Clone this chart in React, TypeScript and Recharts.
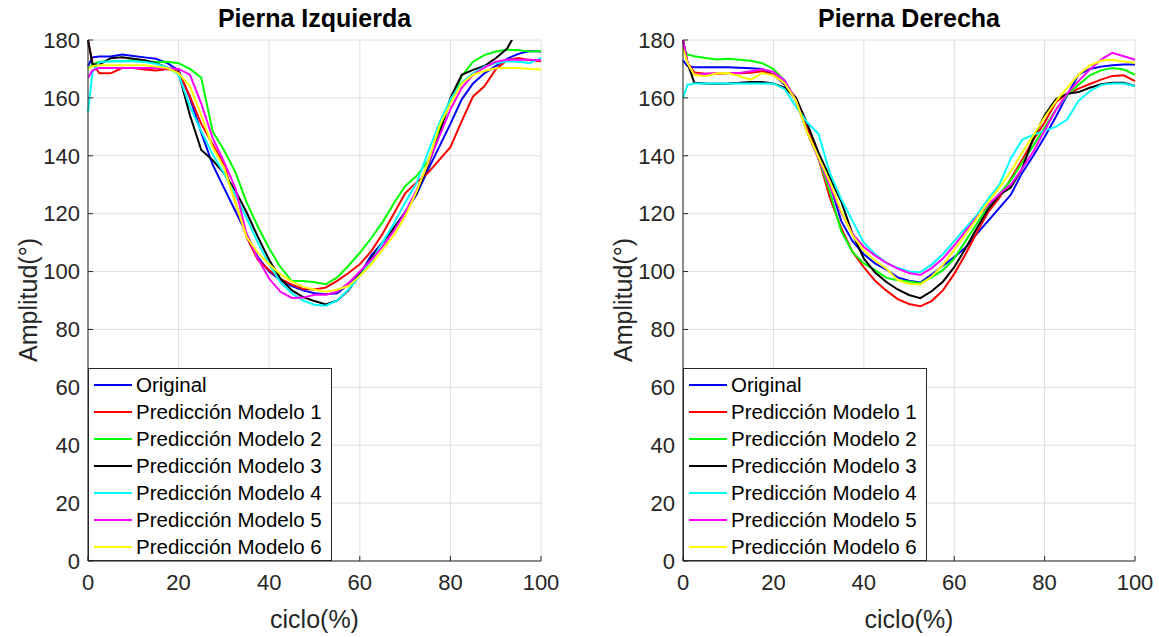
import { LineChart, Line, XAxis, YAxis, CartesianGrid, Legend } from 'recharts'

// ciclo de marcha (%)
const ciclo = [0, 1, 2.5, 5, 7.5, 10, 12.5, 15, 17.5, 20, 22.5, 25, 27.5, 30, 32.5, 35, 37.5, 40, 42.5, 45, 47.5, 50, 52.5, 55, 57.5, 60, 62.5, 65, 67.5, 70, 72.5, 75, 77.5, 80, 82.5, 85, 87.5, 90, 92.5, 95, 97.5, 100]

const seriesNames = ['Original', 'Predicción Modelo 1', 'Predicción Modelo 2', 'Predicción Modelo 3', 'Predicción Modelo 4', 'Predicción Modelo 5', 'Predicción Modelo 6']
const seriesColors = ['#0000ff', '#ff0000', '#00ff00', '#000000', '#00ffff', '#ff00ff', '#ffff00']

const xTicks = [0, 20, 40, 60, 80, 100]
const yTicks = [0, 20, 40, 60, 80, 100, 120, 140, 160, 180]

// Pierna Izquierda
const izqOriginal = [171, 174, 174.3, 174.3, 175, 174.5, 174, 173.5, 172, 169.5, 160, 148, 137, 129, 121, 113, 105, 100, 97, 95, 93.5, 92.5, 92.2, 92.5, 95.5, 99, 105.5, 110, 115, 120.5, 126.5, 135, 143, 151, 159.5, 165, 168.5, 171, 173.5, 175.2, 176.2, 176]
const izqModelo1 = [180, 172, 168.5, 168.5, 170.3, 170.3, 169.8, 169.5, 170, 169, 160.5, 151, 144, 137, 124, 112, 104, 100.5, 97.5, 95.5, 94, 93.8, 94.5, 96.8, 99.5, 102.5, 107, 113, 120, 127, 130.8, 134, 138.5, 143, 152, 160.5, 164, 169.8, 173, 173.8, 173, 172.7]
const izqModelo2 = [170, 171.5, 172.5, 172.7, 172.7, 173, 172.7, 172.4, 172.5, 172, 170, 167, 148.5, 142, 134.5, 124, 115.5, 108, 101.5, 96.7, 96.7, 96.3, 95.6, 98, 102, 106.5, 111.5, 117, 123.5, 129.5, 133, 138, 148.5, 158.5, 167.5, 172.5, 174.8, 176, 176.6, 176.5, 176, 176.2]
const izqModelo3 = [180, 171.5, 171.5, 173.7, 174, 173.5, 173, 172, 170.5, 168.5, 154, 142, 138.5, 134, 128, 120.5, 112, 104, 97.5, 93.5, 91.2, 89.8, 88.6, 90, 93.5, 99, 104.5, 110, 115, 120.4, 127, 136.5, 147, 160, 168, 169.7, 171, 173.7, 177, 184, 190, 196]
const izqModelo4 = [155, 169, 172.3, 172.7, 172.7, 172.7, 172.4, 171.8, 170.5, 168, 157, 148.5, 140.5, 134, 126.5, 118.5, 110, 102.5, 96.3, 92.5, 90, 88.5, 88.2, 90, 93.8, 98.5, 103.5, 110, 116.5, 123.8, 130.5, 141, 151, 159.5, 165.3, 168.5, 170.8, 172, 172.6, 172.5, 172, 173.8]
const izqModelo5 = [167, 169.5, 170.3, 170.3, 170.3, 170.3, 170.3, 170.3, 170.2, 170, 168, 158, 146.2, 138, 129, 113, 104.5, 97.5, 93, 90.9, 91, 92, 92, 93, 96, 100, 104, 108.5, 114, 120.4, 128, 137, 146.5, 156, 163.5, 168, 170.5, 172.5, 173.2, 173.2, 173.2, 173]
const izqModelo6 = [170, 171, 171.3, 171.3, 171.3, 171.3, 171.3, 170.8, 170.3, 168.5, 164, 154, 143, 136, 124, 112, 106.5, 102.5, 99, 96.5, 94.8, 93.7, 93, 93.7, 95, 98.5, 102.5, 107.5, 112.5, 119, 127.5, 137.5, 150, 158, 165, 168, 169.3, 170.2, 170.3, 170.3, 170, 169.8]

// Pierna Derecha
const derOriginal = [173, 171, 170.6, 170.6, 170.6, 170.6, 170.4, 170.2, 170, 168, 164.5, 159, 149, 139.5, 130, 117.5, 110.5, 106, 102.8, 100.7, 98, 96.8, 96.2, 99, 102, 105, 108.3, 113, 117.5, 122, 126.5, 134, 140, 146.5, 153.5, 161, 168, 170, 170.8, 171.3, 171.5, 171.5]
const derModelo1 = [180, 172, 168.8, 168.3, 168.3, 168.5, 168.5, 168.7, 169.2, 168, 165, 160, 150, 139, 125.5, 115, 106.8, 101.5, 96.8, 93.4, 90.5, 88.8, 88, 89.8, 93.5, 99.2, 106, 113.5, 120.5, 125.5, 132, 138.5, 145.5, 151.5, 158.5, 161.5, 163.2, 164.8, 166.3, 167.6, 167.8, 165.8]
const derModelo2 = [177, 175, 174.4, 173.8, 173.3, 173.5, 173.2, 172.8, 172, 170, 166, 159, 148, 139, 127.5, 114, 106.8, 102.8, 100.5, 97.8, 97, 96.6, 96, 98, 100.5, 104.5, 110.5, 116.5, 122.5, 126.8, 131.5, 137.5, 143.5, 149.8, 156, 161, 164.5, 167.8, 169.5, 170.3, 169.8, 168]
const derModelo3 = [180, 172, 165.2, 165, 164.9, 165, 165.2, 165.5, 165.5, 165, 163.5, 160, 151, 141, 132.5, 124.2, 113, 104.5, 99.7, 96.4, 93.8, 91.9, 90.8, 93.2, 96.5, 101.5, 108, 115, 121.5, 126.5, 129, 135.5, 146, 154, 159.5, 161.4, 162, 163.5, 164.7, 165.2, 165.2, 164.1]
const derModelo4 = [160, 164.5, 165, 165, 165, 165, 165, 165, 165, 165, 163, 157, 151.5, 147.5, 134, 125, 117.5, 110, 106, 103, 101.3, 100, 99.8, 102.4, 106, 110.5, 115, 119.5, 125, 130, 139, 145.5, 147.2, 148.7, 150, 152.5, 159, 162.3, 164.5, 165, 165, 164.1]
const derModelo5 = [180, 172, 168, 168.3, 168.6, 168.6, 168.6, 169.2, 169.9, 169, 166, 159, 148, 139, 129.5, 120.5, 113, 108.5, 105.5, 103, 101, 99.5, 98.8, 101.2, 104.5, 109, 114, 118.8, 123, 126.8, 130, 135.5, 141.5, 148.7, 155.8, 161.5, 165.8, 169.8, 173.2, 175.6, 174.4, 173.2]
const derModelo6 = [177, 172, 168, 167.5, 168.5, 168.6, 167.5, 166.3, 168.6, 167.8, 165, 159, 148, 139.5, 131, 121, 112.5, 107.3, 103.8, 101, 97, 95.8, 95.5, 98.3, 102.3, 107.5, 112.8, 118.3, 124, 129, 134.5, 141, 147, 153.3, 158.8, 163.5, 168, 171.2, 172.8, 173.2, 172.6, 172.1]

const izquierda = [izqOriginal, izqModelo1, izqModelo2, izqModelo3, izqModelo4, izqModelo5, izqModelo6]
const derecha = [derOriginal, derModelo1, derModelo2, derModelo3, derModelo4, derModelo5, derModelo6]

const AXIS = '#262626'
const H = 637

function buildRows(series: number[][]) {
  return ciclo.map((c, i) => {
    const row: Record<string, number> = { ciclo: c }
    series.forEach((s, k) => {
      row['s' + k] = s[i]
    })
    return row
  })
}

function LegendBox() {
  return (
    <div
      style={{
        width: 244,
        height: 193,
        boxSizing: 'border-box',
        border: `1px solid ${AXIS}`,
        background: '#fff',
        padding: '2px 0 0 5px',
      }}
    >
      {seriesNames.map((name, k) => (
        <div key={name} style={{ display: 'flex', alignItems: 'center', height: 27 }}>
          <span style={{ width: 38, height: 0, borderTop: `2px solid ${seriesColors[k]}`, marginRight: 4 }} />
          <span style={{ fontSize: 20.5, lineHeight: '27px', color: '#000', whiteSpace: 'nowrap' }}>{name}</span>
        </div>
      ))}
    </div>
  )
}

interface PanelProps {
  title: string
  series: number[][]
  x: number
  width: number
  marginLeft: number
  marginRight: number
}

function Panel({ title, series, x, width, marginLeft, marginRight }: PanelProps) {
  const rows = buildRows(series)
  const plotLeft = marginLeft + 60
  const plotRight = width - marginRight
  const cx = (plotLeft + plotRight) / 2
  const tickStyle = { fontSize: 22, fill: AXIS }
  return (
    <div style={{ position: 'absolute', left: x, top: 0, width, height: H }}>
      <div style={{ position: 'absolute', left: cx, top: 18, transform: 'translate(-50%, -50%)', fontSize: 25, fontWeight: 'bold', color: '#000', whiteSpace: 'nowrap' }}>
        {title}
      </div>
      <LineChart width={width} height={H} data={rows} margin={{ top: 40, right: marginRight, bottom: 36, left: marginLeft }}>
        <CartesianGrid stroke="#dedede" strokeWidth={1} />
        <XAxis
          dataKey="ciclo"
          type="number"
          domain={[0, 100]}
          ticks={xTicks}
          height={40}
          tick={tickStyle}
          tickSize={-5}
          tickMargin={18}
          axisLine={{ stroke: AXIS }}
          tickLine={{ stroke: AXIS }}
        />
        <XAxis
          xAxisId="top"
          orientation="top"
          dataKey="ciclo"
          type="number"
          domain={[0, 100]}
          ticks={xTicks}
          height={0}
          tickSize={-5}
          tickFormatter={() => ''}
          axisLine={{ stroke: AXIS }}
          tickLine={{ stroke: AXIS }}
        />
        <YAxis
          type="number"
          domain={[0, 180]}
          ticks={yTicks}
          allowDataOverflow
          width={60}
          tick={tickStyle}
          tickSize={-5}
          tickMargin={13}
          axisLine={{ stroke: AXIS }}
          tickLine={{ stroke: AXIS }}
        />
        <YAxis
          yAxisId="right"
          orientation="right"
          type="number"
          domain={[0, 180]}
          ticks={yTicks}
          width={0}
          tickSize={-5}
          tickFormatter={() => ''}
          axisLine={{ stroke: AXIS }}
          tickLine={{ stroke: AXIS }}
        />
        {seriesNames.map((name, k) => (
          <Line
            key={name}
            type="linear"
            dataKey={'s' + k}
            name={name}
            stroke={seriesColors[k]}
            strokeWidth={2}
            dot={false}
            activeDot={false}
            isAnimationActive={false}
          />
        ))}
        <Legend
          layout="vertical"
          align="center"
          verticalAlign="middle"
          wrapperStyle={{ left: plotLeft, top: 368, width: 244 }}
          content={() => <LegendBox />}
        />
      </LineChart>
      <div style={{ position: 'absolute', left: marginLeft, top: 300, transform: 'translate(-50%, -50%) rotate(-90deg)', fontSize: 25, color: AXIS, whiteSpace: 'nowrap' }}>
        Amplitud(°)
      </div>
      <div style={{ position: 'absolute', left: cx, top: 619, transform: 'translate(-50%, -50%)', fontSize: 25, color: AXIS, whiteSpace: 'nowrap' }}>
        ciclo(%)
      </div>
    </div>
  )
}

export default function App() {
  return (
    <div style={{ position: 'absolute', left: 0, top: 0, width: 1159, height: H, background: '#fff', fontFamily: '"Liberation Sans", Arial, sans-serif' }}>
      <Panel title="Pierna Izquierda" series={izquierda} x={0} width={560} marginLeft={28} marginRight={19} />
      <Panel title="Pierna Derecha" series={derecha} x={580} width={579} marginLeft={43} marginRight={24} />
    </div>
  )
}
